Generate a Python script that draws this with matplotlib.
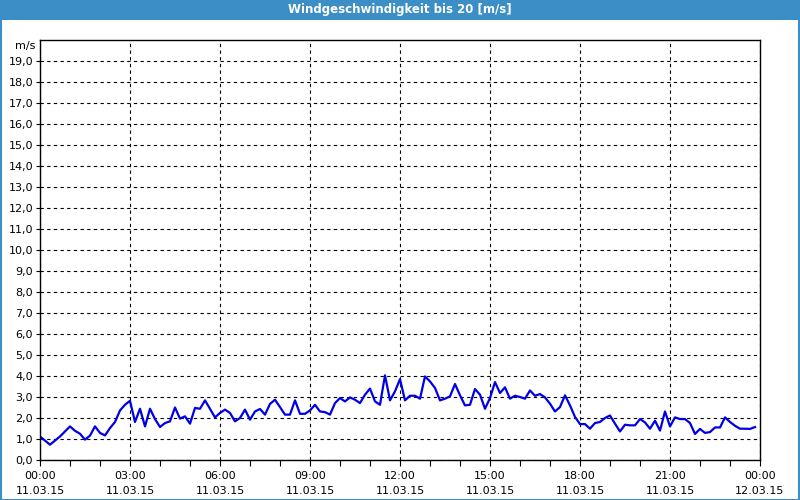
import numpy as np
import matplotlib.pyplot as plt
from matplotlib.patches import Rectangle
from matplotlib.ticker import FixedLocator, MultipleLocator

# Messwerte: Minuten ab 11.03.15 00:00 und Windgeschwindigkeit in m/s
minutes = [0, 20, 40, 50, 60, 70, 80, 90, 100, 110, 120, 130, 140, 150, 160, 170,
           180, 190, 200, 210, 220, 230, 240, 250, 260, 270, 280, 290, 300, 310,
           320, 330, 340, 350, 360, 370, 380, 390, 400, 410, 420, 430, 440, 450,
           460, 470, 480, 490, 500, 510, 520, 530, 540, 550, 560, 570, 580, 590,
           600, 610, 620, 630, 640, 650, 660, 670, 680, 690, 700, 710, 720, 730,
           740, 750, 760, 770, 780, 790, 800, 810, 820, 830, 840, 850, 860, 870,
           880, 890, 900, 910, 920, 930, 940, 950, 960, 970, 980, 990, 1000, 1010,
           1020, 1030, 1040, 1050, 1060, 1070, 1080, 1090, 1100, 1110, 1120, 1130,
           1140, 1150, 1160, 1170, 1180, 1190, 1200, 1210, 1220, 1230, 1240, 1250,
           1260, 1270, 1280, 1290, 1300, 1310, 1320, 1330, 1340, 1350, 1360, 1370,
           1380, 1390, 1400, 1410, 1420, 1430]
speed = [1.12, 0.73, 1.12, 1.36, 1.60, 1.39, 1.25, 0.97, 1.16, 1.60, 1.29, 1.17,
         1.52, 1.81, 2.36, 2.63, 2.82, 1.81, 2.44, 1.60, 2.44, 1.95, 1.57, 1.76,
         1.84, 2.50, 1.97, 2.08, 1.73, 2.48, 2.44, 2.84, 2.43, 2.03, 2.24, 2.40,
         2.24, 1.84, 2.00, 2.40, 1.92, 2.31, 2.43, 2.16, 2.67, 2.87, 2.52, 2.16,
         2.16, 2.84, 2.20, 2.20, 2.36, 2.63, 2.31, 2.28, 2.16, 2.71, 2.95, 2.79,
         2.98, 2.87, 2.71, 3.11, 3.40, 2.79, 2.63, 4.03, 2.84, 3.27, 3.85, 2.84,
         3.06, 3.06, 2.92, 3.98, 3.74, 3.43, 2.84, 2.92, 3.03, 3.62, 3.08, 2.60,
         2.63, 3.38, 3.11, 2.44, 2.95, 3.71, 3.19, 3.46, 2.92, 3.06, 3.00, 2.92,
         3.31, 3.06, 3.14, 2.98, 2.68, 2.31, 2.52, 3.08, 2.60, 2.05, 1.71, 1.71,
         1.49, 1.76, 1.81, 2.00, 2.12, 1.73, 1.36, 1.68, 1.65, 1.65, 1.95, 1.79,
         1.49, 1.87, 1.40, 2.31, 1.60, 2.03, 1.95, 1.95, 1.76, 1.24, 1.48, 1.29,
         1.33, 1.55, 1.55, 2.03, 1.81, 1.63, 1.49, 1.49, 1.48, 1.57]

tick_hours = [0, 3, 6, 9, 12, 15, 18, 21, 24]
tick_labels = ["00:00\n11.03.15", "03:00\n11.03.15", "06:00\n11.03.15",
               "09:00\n11.03.15", "12:00\n11.03.15", "15:00\n11.03.15",
               "18:00\n11.03.15", "21:00\n11.03.15", "00:00\n12.03.15"]
y_ticks = list(range(0, 20))

title = "Windgeschwindigkeit bis 20 [m/s]"
unit = "m/s"

plt.rcParams['font.family'] = ['DejaVu Sans']

fig = plt.figure(figsize=(8, 5), dpi=100)
fig.patch.set_facecolor('white')

# Titelleiste oben und blauer Rahmen
fig.add_artist(Rectangle((0, 0.96), 1, 0.04, transform=fig.transFigure,
                         facecolor='#3c8fc6', edgecolor='none'))
fig.add_artist(Rectangle((0.001, 0.001), 0.998, 0.998, transform=fig.transFigure,
                         facecolor='none', edgecolor='#3c8fc6', linewidth=1.5))
fig.text(0.5, 0.98, title, color='white', fontsize=8.5, fontweight='bold',
         ha='center', va='center')

ax = fig.add_axes([0.05, 0.08, 0.9, 0.84])
ax.set_facecolor('white')

hours = np.array(minutes) / 60.0
ax.plot(hours, speed, color='#0000e6', linewidth=1.6)

ax.set_xlim(0, 24)
ax.set_ylim(0, 20)

ax.xaxis.set_major_locator(FixedLocator(tick_hours))
ax.set_xticklabels(tick_labels, fontsize=8, linespacing=1.6)
ax.xaxis.set_minor_locator(MultipleLocator(1))
ax.set_yticks(y_ticks)
ax.set_yticklabels([f"{v},0" for v in y_ticks], fontsize=8)

ax.tick_params(axis='x', which='major', length=4, width=0.8, pad=4)
ax.tick_params(axis='x', which='minor', length=4, width=0.8)
ax.tick_params(axis='y', length=3, width=0.8, pad=2)

ax.grid(True, which='major', color='black', linestyle=(0, (3, 3)), linewidth=0.8)
for s in ax.spines.values():
    s.set_color('black')
    s.set_linewidth(1.0)

# Einheit oben links über der Skala
ax.text(-0.006, 19.7, unit, transform=ax.get_yaxis_transform(),
        ha='right', va='center', fontsize=8)

fig.savefig("out.png", dpi=100)
